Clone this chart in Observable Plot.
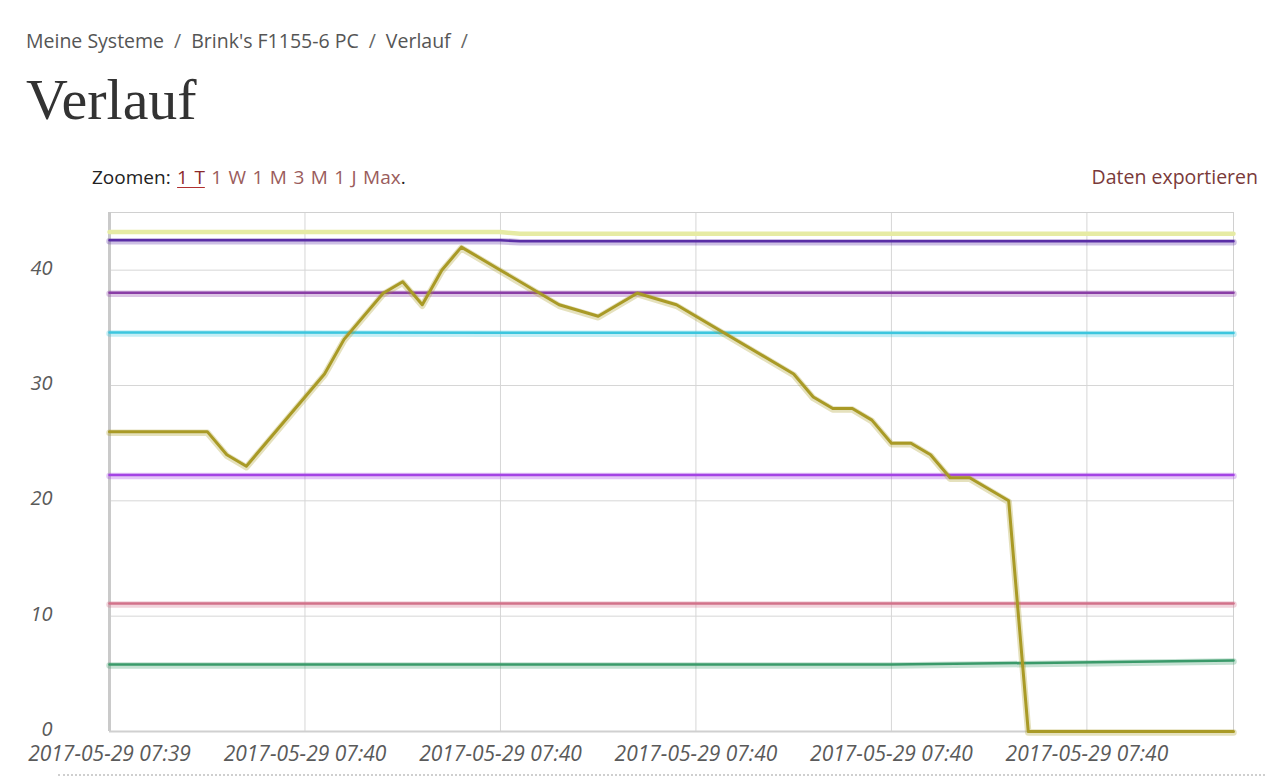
<!DOCTYPE html>
<html><head><meta charset="utf-8">
<script src="https://cdn.jsdelivr.net/npm/d3@7"></script>
<script src="https://cdn.jsdelivr.net/npm/@observablehq/plot@0.6"></script>
<style>
html,body{margin:0;padding:0;background:#fff;width:1280px;height:781px;overflow:hidden;}
#page{position:relative;width:1280px;height:781px;font-family:"Open Sans",sans-serif;}
.crumb{position:absolute;left:26px;top:27px;font-size:19.5px;color:#555;white-space:nowrap;}
.crumb .sep{margin:0 10px;color:#666;}
h1{position:absolute;left:26px;top:71px;margin:0;font-family:"Liberation Serif",serif;font-weight:normal;font-size:58px;color:#333;line-height:1;}
.zoom{position:absolute;left:92px;top:164px;font-size:19px;color:#222;white-space:nowrap;word-spacing:1.5px;}
.zoom a{color:#9a5c5c;text-decoration:none;}
.zoom a.active{color:#8b2a2a;text-decoration:underline;text-underline-offset:3px;text-decoration-color:#b03030;}
.export{position:absolute;right:22px;top:163px;font-size:19.5px;color:#7a3a3a;}
#chart{position:absolute;left:0;top:200px;}
.dots{position:absolute;left:58px;width:1207px;top:774px;border-top:2px dotted #cfcfcf;}
</style>
</head><body>
<div id="page">
  <div class="crumb">Meine Systeme<span class="sep">/</span>Brink's F1155-6 PC<span class="sep">/</span>Verlauf<span class="sep">/</span></div>
  <h1>Verlauf</h1>
  <div class="zoom">Zoomen: <a class="active">1 T</a> <a>1 W</a> <a>1 M</a> <a>3 M</a> <a>1 J</a> <a>Max</a>.</div>
  <div class="export">Daten exportieren</div>
  <div id="chart"></div>
  <div class="dots"></div>
</div>
<script>
// ---- data ----
const baseTime = [2017, 4, 29, 7, 39, 50];          // 2017-05-29 07:39:50
const endSecond = 57.5;
const xTickSeconds = [0, 10, 20, 30, 40, 50];
const xTickLabels = ["2017-05-29 07:39", "2017-05-29 07:40", "2017-05-29 07:40",
                     "2017-05-29 07:40", "2017-05-29 07:40", "2017-05-29 07:40"];
const yTicks = [0, 10, 20, 30, 40];

const yellowSec = [0, 20, 21, 57.5];
const yellowVal = [43.3, 43.3, 43.15, 43.15];
const purpleSec = [0, 20, 21, 57.5];
const purpleVal = [42.6, 42.6, 42.5, 42.5];
const magentaSec = [0, 57.5];
const magentaVal = [38.05, 38.05];
const cyanSec = [0, 57.5];
const cyanVal = [34.6, 34.55];
const violetSec = [0, 57.5];
const violetVal = [22.25, 22.25];
const pinkSec = [0, 57.5];
const pinkVal = [11.1, 11.1];
const greenSec = [0, 40, 57.5];
const greenVal = [5.8, 5.8, 6.15];
const oliveSec = [0, 5, 6, 7, 11, 12, 14, 15, 16, 17, 18, 20, 23, 25, 27, 29, 35, 36, 37, 38, 39, 40, 41, 42, 43, 44, 46, 47, 57.5];
const oliveVal = [26, 26, 24, 23, 31, 34, 38, 39, 37, 40, 42, 40, 37, 36, 38, 37, 31, 29, 28, 28, 27, 25, 25, 24, 22, 22, 20, 0, 0];

const seriesNames = ["yellow", "purple", "magenta", "cyan", "violet", "pink", "green", "olive"];
const seriesColors = ["#e6eba4", "#5a2ea6", "#8a3ea6", "#3cc6de", "#a444e4", "#d2728a", "#3a9a6a", "#a99a26"];
const seriesSecs = [yellowSec, purpleSec, magentaSec, cyanSec, violetSec, pinkSec, greenSec, oliveSec];
const seriesVals = [yellowVal, purpleVal, magentaVal, cyanVal, violetVal, pinkVal, greenVal, oliveVal];

// ---- build ----
const base = new Date(...baseTime);
const at = s => new Date(base.getTime() + s * 1000);
const labelMap = new Map(xTickSeconds.map((s, i) => [+at(s), xTickLabels[i]]));

const rows = [];
seriesNames.forEach((name, k) => {
  seriesSecs[k].forEach((s, i) => rows.push({series: name, t: at(s), v: seriesVals[k][i]}));
});
const colorOf = Object.fromEntries(seriesNames.map((n, i) => [n, seriesColors[i]]));

const marks = [
  Plot.gridX(xTickSeconds.map(at), {stroke: "#d6d6d6", strokeOpacity: 1}),
  Plot.gridY(yTicks.filter(d => d > 0), {stroke: "#d6d6d6", strokeOpacity: 1}),
  Plot.frame({stroke: "#d0d0d0"}),
  Plot.ruleX([at(0)], {stroke: "#cacaca", strokeWidth: 3}),
  Plot.ruleY([0], {stroke: "#d0d0d0", strokeWidth: 2})
];
seriesNames.forEach(name => {
  const data = rows.filter(r => r.series === name);
  if (name === "yellow") {
    marks.push(Plot.line(data, {x: "t", y: "v", stroke: colorOf[name], strokeWidth: 4.5}));
  } else {
    marks.push(Plot.line(data, {x: "t", y: "v", stroke: colorOf[name], strokeWidth: 6.5, strokeOpacity: 0.3, dy: 1}));
    marks.push(Plot.line(data, {x: "t", y: "v", stroke: colorOf[name], strokeWidth: name === "olive" ? 3 : 2.5}));
  }
});
marks.push(Plot.axisX(xTickSeconds.map(at), {tickSize: 0, tickPadding: 15, tickFormat: d => labelMap.get(+d), label: null, fill: "#5a5a5a", fontSize: 21}));
marks.push(Plot.axisY(yTicks, {tickSize: 0, tickPadding: 57, label: null, fill: "#5a5a5a", dy: -2}));

const chart = Plot.plot({
  width: 1280, height: 570,
  marginLeft: 109, marginRight: 47, marginTop: 12, marginBottom: 39,
  x: {type: "time", domain: [at(0), at(endSecond)]},
  y: {domain: [0, 45]},
  style: {fontFamily: "Open Sans", fontSize: "20px", fontStyle: "italic", color: "#555", background: "#fff"},
  marks
});
document.getElementById("chart").appendChild(chart);
</script>
</body></html>
